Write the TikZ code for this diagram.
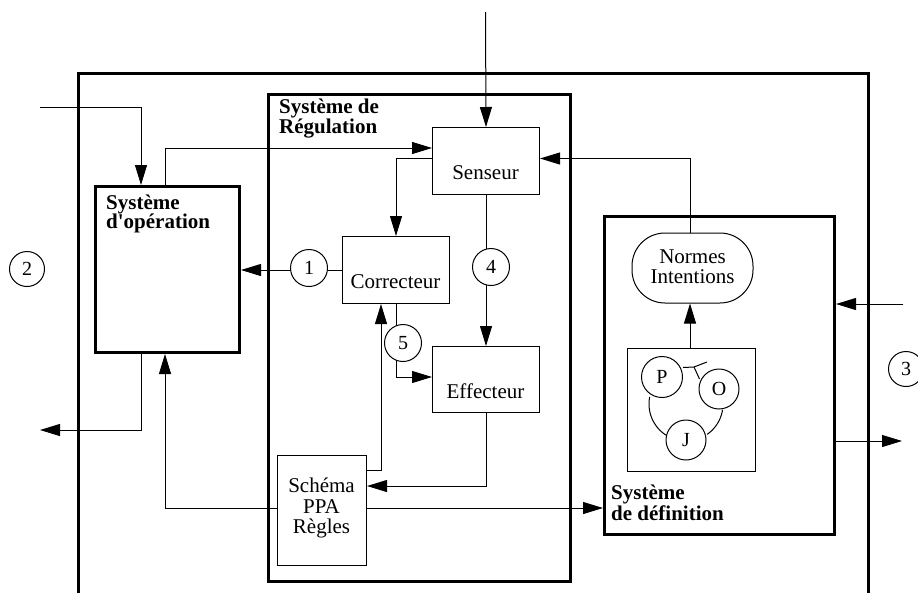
\documentclass[tikz,border=0pt]{standalone}
\usepackage{fontspec}
\newfontfamily\figfont{Liberation Serif}
\usetikzlibrary{arrows.meta}

\begin{document}
\begin{tikzpicture}[x=1pt,y=-1pt,
  arr/.style={line width=1pt,-{Triangle[length=20pt,width=12pt]}},
  wire/.style={line width=1pt},
  box/.style={draw,line width=1pt,inner sep=0pt,anchor=north west},
  sysbox/.style={draw,line width=3pt,inner sep=0pt,anchor=north west},
  txt/.style={font=\figfont\fontsize{21}{21}\selectfont,inner sep=0pt,anchor=base},
  ttl/.style={font=\figfont\bfseries\fontsize{21}{21}\selectfont,inner sep=0pt,anchor=base west},
  num/.style={circle,draw,fill=white,line width=1pt,minimum size=37pt,inner sep=0pt,
              font=\figfont\fontsize{20}{20}\selectfont},
  agent/.style={circle,draw,fill=white,line width=1pt,minimum size=41pt,inner sep=0pt,
              font=\figfont\fontsize{20}{20}\selectfont}]

\useasboundingbox (0,0) rectangle (918,592);
\clip (0,0) rectangle (918,592);

% enclosing system, open at the bottom
\draw[line width=3pt] (78,600) -- (78,73) -- (868,73) -- (868,600);

% the three subsystems
\node[sysbox,minimum width=144pt,minimum height=166pt] (op)  at (94,185) {};
\node[sysbox,minimum width=302pt,minimum height=487pt] (reg) at (267,93) {};
\node[sysbox,minimum width=230pt,minimum height=318pt] (def) at (603,215) {};

\node[ttl] (opA)  at (106,209) {Système};
\node[ttl] (opB)  at (106,228) {d'opération};
\node[ttl] (regA) at (279,113) {Système de};
\node[ttl] (regB) at (279,133) {Régulation};
\node[ttl] (defA) at (611,499) {Système};
\node[ttl] (defB) at (611,520) {de définition};

% blocks of the regulation loop
\node[box,minimum width=107pt,minimum height=67pt] (sens) at (432,127) {};
\node[box,minimum width=107pt,minimum height=67pt] (corr) at (342,236) {};
\node[box,minimum width=107pt,minimum height=66pt] (eff)  at (432,346) {};
\node[box,minimum width=89pt,minimum height=110pt] (sch)  at (277,455) {};

\node[txt] (tSens) at (485.5,179) {Senseur};
\node[txt] (tCorr) at (395.5,288) {Correcteur};
\node[txt] (tEff)  at (485.5,398) {Effecteur};
\node[txt] (tSchA) at (321.5,492.5) {Schéma};
\node[txt] (tSchB) at (321.5,513) {PPA};
\node[txt] (tSchC) at (321.5,533) {Règles};

% definition system contents
\node[draw,rectangle,rounded corners=33pt,line width=1pt,inner sep=0pt,
      minimum width=121pt,minimum height=70pt] (norm) at (692.5,268) {};
\node[txt] (tNormA) at (692.5,263) {Normes};
\node[txt] (tNormB) at (692.5,283) {Intentions};
\node[box,minimum width=128pt,minimum height=123pt] (pjo) at (627,348) {};

% cycle linking P, O and J
\draw[wire] plot[domain=169:241,samples=30] ({686+37*cos(\x)},{404-37*sin(\x)});
\draw[wire] plot[domain=305:351,samples=20] ({686+37*cos(\x)},{404-37*sin(\x)});
\draw[wire] (683,367.5) -- (694,367) -- (699.5,379);
\draw[wire] (694,367) -- (707,362);
\node[agent] (P) at (662,377) {P};
\node[agent,minimum size=40pt] (O) at (719,389) {O};
\node[agent,minimum size=40pt] (J) at (686,440) {J};

% free ends of external flows
\coordinate (inTop)   at (485.5,12);
\coordinate (inLeft)  at (40,107.5);
\coordinate (outLeft) at (40,430);
\coordinate (inRight) at (903,304);
\coordinate (outRight) at (902,441);

% connectors
\draw[arr] (inTop) -- (sens.north);
\draw[arr] (inLeft) -| ([xshift=47pt]op.north west);
\draw[arr] ([xshift=71pt]op.north west) |- ([yshift=-21pt]sens.north west);
\draw[arr] ([yshift=-31.5pt]sens.north west) -| (corr.north);
\draw[arr] (sens.south) -- (eff.north);
\draw[arr] (corr.west) -- (corr.west -| op.east);
\draw[arr] (corr.south) |- ([yshift=-31pt]eff.north west);
\draw[arr] ([yshift=-15pt]sch.north east) -| ([xshift=39pt]corr.south west);
\draw[arr] (eff.south) |- ([yshift=-31pt]sch.north east);
\draw[arr] ([yshift=-53pt]sch.north east) -- ([yshift=-53pt]sch.north east -| def.west);
\draw[arr] ([yshift=-53pt]sch.north west) -| ([xshift=71pt]op.south west);
\draw[arr] ([xshift=47pt]op.south west) |- (outLeft);
\draw[arr] ([xshift=-2.5pt]norm.north) |- ([yshift=-31.5pt]sens.north east);
\draw[arr] ([xshift=-2.5pt]norm.north |- pjo.north) -- ([xshift=-2.5pt]norm.south);
\draw[arr] (inRight) -- (inRight -| def.east);
\draw[arr] (outRight -| def.east) -- (outRight);

% numbered markers
\node[num] (n1) at (309,268) {1};
\node[num] (n4) at (491,267) {4};
\node[num] (n5) at (403,343) {5};
\node[num,minimum size=35pt] (n2) at (27,269) {2};
\node[num,minimum size=35pt] (n3) at (906,369) {3};
\end{tikzpicture}
\end{document}
